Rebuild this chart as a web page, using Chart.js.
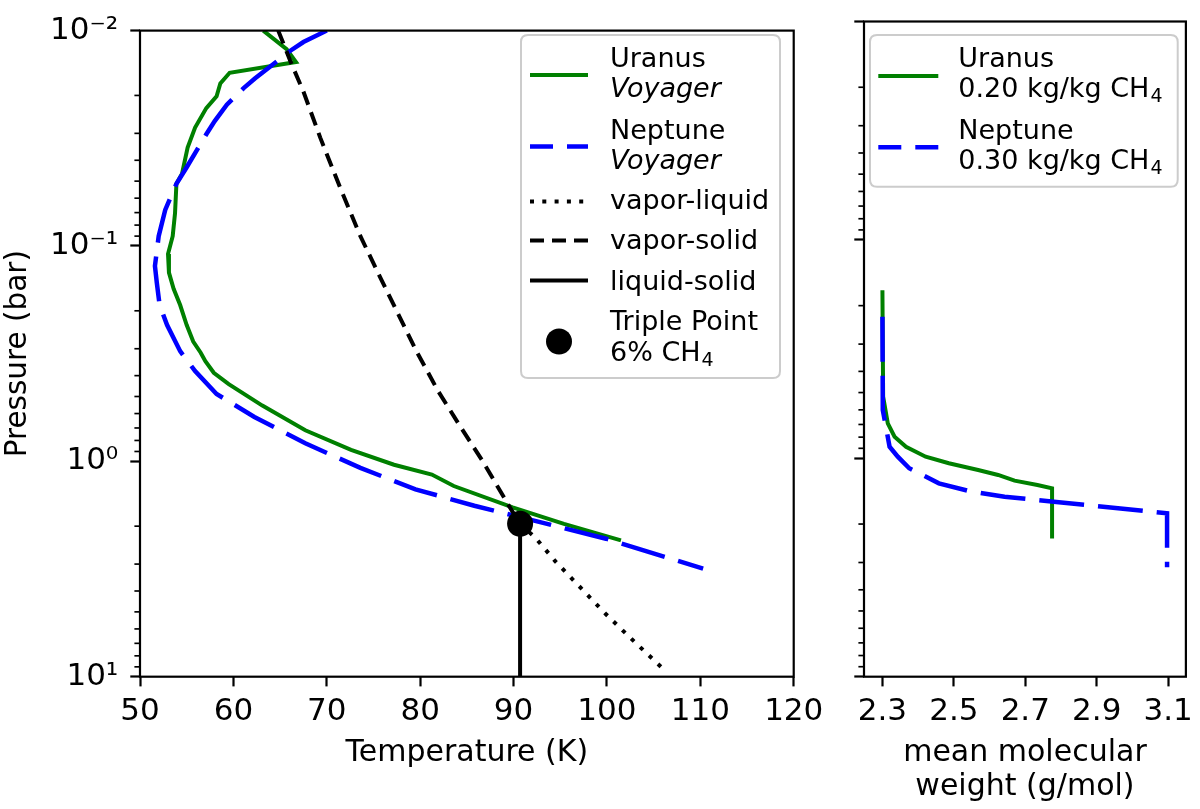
<!DOCTYPE html>
<html>
<head>
<meta charset="utf-8">
<script src="https://cdn.jsdelivr.net/npm/chart.js@4/dist/chart.umd.min.js"></script>
<style>
html, body { margin: 0; padding: 0; background: #ffffff; }
#wrap { position: relative; width: 1200px; height: 809px; overflow: hidden; }
#c1 { position: absolute; left: 0; top: 0; }
#c2 { position: absolute; left: 830px; top: 0; }
</style>
</head>
<body>
<div id="wrap">
  <canvas id="c1" width="830" height="809"></canvas>
  <canvas id="c2" width="370" height="809"></canvas>
</div>
<script>
// ---------------- DATA ----------------
// Left panel: temperature (K) vs pressure (bar)
const uranusT = [63.2, 65.7, 66.7, 59.6, 58.6, 58.2, 57.1, 55.9, 55.1, 54.5, 53.9, 53.75, 53.5, 53.0, 53.1, 53.6, 54.3, 55.0, 55.7, 56.5, 57.0, 57.9, 59.5, 63.1, 67.7, 72.6, 77.2, 81.25, 83.6, 89.9, 95.4, 101.5];
const uranusP = [0.0100, 0.0122, 0.0140, 0.0157, 0.0176, 0.0202, 0.0229, 0.0282, 0.0349, 0.0462, 0.0514, 0.0705, 0.0901, 0.109, 0.133, 0.158, 0.188, 0.233, 0.278, 0.313, 0.343, 0.388, 0.438, 0.551, 0.717, 0.885, 1.037, 1.152, 1.302, 1.636, 1.951, 2.33];

const neptuneT = [70.0, 67.5, 66.1, 62.3, 61.1, 59.3, 58.0, 57.1, 55.0, 53.9, 52.7, 52.0, 51.6, 51.8, 52.1, 52.9, 54.3, 55.9, 58.2, 62.25, 67.7, 73.6, 79.5, 85.8, 90.8, 99.9, 110.3];
const neptuneP = [0.0100, 0.0113, 0.0124, 0.0167, 0.0185, 0.0221, 0.0263, 0.0303, 0.0431, 0.0514, 0.068, 0.090, 0.124, 0.148, 0.188, 0.233, 0.308, 0.381, 0.487, 0.622, 0.824, 1.073, 1.349, 1.607, 1.82, 2.287, 3.15];

const vaporSolidT = [64.8, 66.2, 67.5, 69.3, 71.4, 73.6, 75.8, 79.6, 81.9, 84.1, 86.7, 89.5, 90.7];
const vaporSolidP = [0.0100, 0.0142, 0.0192, 0.0314, 0.0532, 0.0901, 0.142, 0.308, 0.470, 0.668, 1.0, 1.607, 1.95];

const vaporLiquidT = [90.7, 92.4, 94.5, 97.2, 99.9, 102.6, 106.3];
const vaporLiquidP = [1.95, 2.28, 2.92, 3.87, 5.13, 6.66, 9.45];

const liquidSolidT = [90.7, 90.7];
const liquidSolidP = [1.95, 10];

const triplePointT = [90.7];
const triplePointP = [1.95];

// Right panel: mean molecular weight (g/mol) vs pressure (bar)
const uranusMMW  = [2.300, 2.302, 2.315, 2.334, 2.366, 2.421, 2.486, 2.568, 2.624, 2.670, 2.734, 2.775, 2.775];
const uranusMMWP = [0.170, 0.522, 0.692, 0.797, 0.885, 0.983, 1.054, 1.131, 1.192, 1.266, 1.325, 1.372, 2.33];

const neptuneMMW  = [2.300, 2.301, 2.320, 2.343, 2.375, 2.458, 2.550, 2.642, 2.780, 2.918, 3.097, 3.097];
const neptuneMMWP = [0.225, 0.601, 0.885, 0.983, 1.111, 1.302, 1.422, 1.499, 1.580, 1.665, 1.786, 3.15];

// Ticks
const tempTicks = [50, 60, 70, 80, 90, 100, 110, 120];
const mmwTicks = [2.3, 2.5, 2.7, 2.9, 3.1];
const pressureMajorTicks = [0.01, 0.1, 1, 10];
const pressureMajorLabels = ['10\u207B\u00B2', '10\u207B\u00B9', '10\u2070', '10\u00B9'];
const pressureMinorTicks = [0.02, 0.03, 0.04, 0.05, 0.06, 0.07, 0.08, 0.09,
                            0.2, 0.3, 0.4, 0.5, 0.6, 0.7, 0.8, 0.9,
                            2, 3, 4, 5, 6, 7, 8, 9];

// Texts
const leftLegendLabels = [['Uranus', 'Voyager'], ['Neptune', 'Voyager'], ['vapor-liquid'], ['vapor-solid'], ['liquid-solid'], ['Triple Point', '6% CH\u2084']];
const rightLegendLabels = [['Uranus', '0.20 kg/kg CH\u2084'], ['Neptune', '0.30 kg/kg CH\u2084']];
const leftXTitle = 'Temperature (K)';
const rightXTitle = ['mean molecular', 'weight (g/mol)'];
const yTitle = 'Pressure (bar)';

// ---------------- STYLE ----------------
const FONT = '"DejaVu Sans", "Liberation Sans", sans-serif';
const GREEN = '#008000';
const BLUE = '#0000ff';
const TICK_FONT = 31;
const TITLE_FONT = 30;
const LEGEND_FONT = 27;
const pts = (xs, ys) => xs.map((v, i) => ({ x: v, y: ys[i] }));

Chart.defaults.font.family = FONT;
Chart.defaults.color = '#000';

function yScale(showLabels, width) {
  return {
    type: 'logarithmic',
    reverse: true,
    min: 0.01,
    max: 10,
    afterBuildTicks: s => { s.ticks = pressureMajorTicks.map(v => ({ value: v, major: true })); },
    ticks: {
      display: showLabels,
      autoSkip: false,
      padding: 12,
      color: '#000',
      font: { size: TICK_FONT, family: FONT },
      callback: (v, i) => pressureMajorLabels[i]
    },
    grid: { display: true, drawOnChartArea: false, drawTicks: true, tickLength: 9.7, tickWidth: 2.2, tickColor: '#000' },
    border: { display: false },
    title: showLabels ? { display: true, text: yTitle, color: '#000', font: { size: 29.5, family: FONT, lineHeight: 1.125 }, padding: { top: 1.4, bottom: 0 } } : { display: false },
    afterFit: s => { s.width = width; }
  };
}

function xScale(min, max, tickVals, fmt, title, padBottom) {
  return {
    type: 'linear',
    min: min,
    max: max,
    afterBuildTicks: s => { s.ticks = tickVals.map(v => ({ value: v })); },
    ticks: {
      autoSkip: false,
      maxRotation: 0,
      minRotation: 0,
      padding: 6.7,
      color: '#000',
      font: { size: TICK_FONT, family: FONT, lineHeight: 1.2 },
      callback: (v) => fmt(v)
    },
    grid: { display: true, drawOnChartArea: false, drawTicks: true, tickLength: 9.7, tickWidth: 2.2, tickColor: '#000' },
    border: { display: false },
    title: { display: true, text: title, color: '#000', font: { size: TITLE_FONT, family: FONT, lineHeight: 1.125 }, padding: { top: 0, bottom: padBottom } },
    afterFit: s => { s.height = 132.3; }
  };
}

function drawFrameAndMinor(chart) {
  const ctx = chart.ctx;
  const ca = chart.chartArea;
  const ys = chart.scales.y;
  ctx.save();
  ctx.strokeStyle = '#000';
  ctx.lineWidth = 1.67;
  ctx.setLineDash([]);
  pressureMinorTicks.forEach(v => {
    const py = ys.getPixelForValue(v);
    ctx.beginPath();
    ctx.moveTo(ca.left - 5.6, py);
    ctx.lineTo(ca.left, py);
    ctx.stroke();
  });
  ctx.lineWidth = 2.2;
  ctx.strokeRect(ca.left, ca.top, ca.right - ca.left, ca.bottom - ca.top);
  ctx.restore();
}

function roundRectPath(ctx, x, y, w, h, r) {
  ctx.beginPath();
  ctx.moveTo(x + r, y);
  ctx.lineTo(x + w - r, y);
  ctx.quadraticCurveTo(x + w, y, x + w, y + r);
  ctx.lineTo(x + w, y + h - r);
  ctx.quadraticCurveTo(x + w, y + h, x + w - r, y + h);
  ctx.lineTo(x + r, y + h);
  ctx.quadraticCurveTo(x, y + h, x, y + h - r);
  ctx.lineTo(x, y + r);
  ctx.quadraticCurveTo(x, y, x + r, y);
  ctx.closePath();
}

// Draws a text line; a subscript digit (U+2080..U+2089) is drawn as a smaller, lowered digit
function drawRichText(ctx, txt, x, y, italic) {
  const base = (italic ? 'italic ' : '') + LEGEND_FONT + 'px ' + FONT;
  const sub = (italic ? 'italic ' : '') + Math.round(LEGEND_FONT * 0.7) + 'px ' + FONT;
  let cx = x;
  let buf = '';
  const flush = () => {
    if (!buf) return;
    ctx.font = base;
    ctx.fillText(buf, cx, y);
    cx += ctx.measureText(buf).width;
    buf = '';
  };
  for (const ch of txt) {
    const code = ch.codePointAt(0);
    if (code >= 0x2080 && code <= 0x2089) {
      flush();
      const d = String(code - 0x2080);
      ctx.font = sub;
      ctx.fillText(d, cx + 1, y + 4.5);
      cx += ctx.measureText(d).width + 1;
    } else {
      buf += ch;
    }
  }
  flush();
}

// legend spec: box, handle x-range, text x, entries
function drawLegend(ctx, spec) {
  ctx.save();
  roundRectPath(ctx, spec.box.x, spec.box.y, spec.box.w, spec.box.h, 7);
  ctx.fillStyle = 'rgba(255,255,255,0.8)';
  ctx.fill();
  ctx.strokeStyle = '#cccccc';
  ctx.lineWidth = 2;
  ctx.stroke();
  spec.entries.forEach(e => {
    if (e.kind === 'line') {
      ctx.beginPath();
      ctx.setLineDash(e.dash);
      ctx.lineDashOffset = 0;
      ctx.strokeStyle = e.color;
      ctx.lineWidth = e.width;
      ctx.lineCap = 'butt';
      ctx.moveTo(spec.hx1, e.hy);
      ctx.lineTo(spec.hx2, e.hy);
      ctx.stroke();
    } else if (e.kind === 'dot') {
      ctx.setLineDash([]);
      ctx.beginPath();
      ctx.fillStyle = '#000';
      ctx.arc((spec.hx1 + spec.hx2) / 2, e.hy, 13, 0, Math.PI * 2);
      ctx.fill();
    }
    ctx.fillStyle = '#000';
    ctx.textBaseline = 'alphabetic';
    ctx.textAlign = 'left';
    e.labels.forEach((txt, i) => {
      drawRichText(ctx, txt, spec.tx, e.baselines[i], e.italic && e.italic[i]);
    });
  });
  ctx.restore();
}

const leftLegendSpec = {
  box: { x: 521, y: 35, w: 259, h: 343 },
  hx1: 530, hx2: 588, tx: 610,
  entries: [
    { kind: 'line', color: GREEN, width: 4, dash: [], hy: 75, labels: leftLegendLabels[0], italic: [false, true], baselines: [66.7, 96.7] },
    { kind: 'line', color: BLUE, width: 4.5, dash: [23, 14], hy: 146.5, labels: leftLegendLabels[1], italic: [false, true], baselines: [138.5, 168.5] },
    { kind: 'line', color: '#000', width: 4, dash: [4, 8.3], hy: 201.5, labels: leftLegendLabels[2], baselines: [208.5] },
    { kind: 'line', color: '#000', width: 4, dash: [14, 8], hy: 240.5, labels: leftLegendLabels[3], baselines: [249] },
    { kind: 'line', color: '#000', width: 4, dash: [], hy: 280.5, labels: leftLegendLabels[4], baselines: [289.5] },
    { kind: 'dot', hy: 341.5, labels: leftLegendLabels[5], baselines: [330, 361] }
  ]
};

const rightLegendSpec = {
  box: { x: 40, y: 35, w: 307.7, h: 151.7 },
  hx1: 48.3, hx2: 108.3, tx: 128.3,
  entries: [
    { kind: 'line', color: GREEN, width: 4, dash: [], hy: 76, labels: rightLegendLabels[0], baselines: [66.7, 97.3] },
    { kind: 'line', color: BLUE, width: 4.5, dash: [23, 14], hy: 147.3, labels: rightLegendLabels[1], baselines: [139.3, 169.3] }
  ]
};

const leftDecor = {
  id: 'leftDecor',
  afterDraw(chart) {
    drawFrameAndMinor(chart);
    drawLegend(chart.ctx, leftLegendSpec);
  }
};
const rightDecor = {
  id: 'rightDecor',
  afterDraw(chart) {
    drawFrameAndMinor(chart);
    drawLegend(chart.ctx, rightLegendSpec);
  }
};

const commonOpts = {
  responsive: false,
  animation: false,
  events: [],
  plugins: { legend: { display: false }, tooltip: { enabled: false } }
};

// ---------------- LEFT CHART ----------------
new Chart(document.getElementById('c1'), {
  type: 'scatter',
  data: {
    datasets: [
      { label: 'Triple Point', data: pts(triplePointT, triplePointP), showLine: false, pointRadius: 13, pointBackgroundColor: '#000', pointBorderWidth: 0, order: 0 },
      { label: 'Uranus', data: pts(uranusT, uranusP), showLine: true, borderColor: GREEN, borderWidth: 4, pointRadius: 0, tension: 0, order: 3 },
      { label: 'Neptune', data: pts(neptuneT, neptuneP), showLine: true, borderColor: BLUE, borderWidth: 4.5, borderDash: [45, 14], pointRadius: 0, tension: 0, order: 2 },
      { label: 'vapor-liquid', data: pts(vaporLiquidT, vaporLiquidP), showLine: true, borderColor: '#000', borderWidth: 4, borderDash: [4, 8.3], pointRadius: 0, tension: 0, order: 1 },
      { label: 'vapor-solid', data: pts(vaporSolidT, vaporSolidP), showLine: true, borderColor: '#000', borderWidth: 4, borderDash: [14, 8], pointRadius: 0, tension: 0, order: 1 },
      { label: 'liquid-solid', data: pts(liquidSolidT, liquidSolidP), showLine: true, borderColor: '#000', borderWidth: 4, pointRadius: 0, tension: 0, order: 1 }
    ]
  },
  options: Object.assign({}, commonOpts, {
    layout: { padding: { top: 21.5, right: 36, bottom: 0, left: 0 } },
    scales: {
      x: xScale(50, 120, tempTicks, v => String(v), leftXTitle, 38.8),
      y: yScale(true, 140)
    }
  }),
  plugins: [leftDecor]
});

// ---------------- RIGHT CHART ----------------
new Chart(document.getElementById('c2'), {
  type: 'scatter',
  data: {
    datasets: [
      { label: 'Uranus', data: pts(uranusMMW, uranusMMWP), showLine: true, borderColor: GREEN, borderWidth: 4, pointRadius: 0, tension: 0, order: 2 },
      { label: 'Neptune', data: pts(neptuneMMW, neptuneMMWP), showLine: true, borderColor: BLUE, borderWidth: 4.5, borderDash: [45, 14], pointRadius: 0, tension: 0, order: 1 }
    ]
  },
  options: Object.assign({}, commonOpts, {
    layout: { padding: { top: 21.5, right: 9.3, bottom: 0, left: 0 } },
    scales: {
      x: xScale(2.2484, 3.1497, mmwTicks, v => Number(v).toFixed(1), rightXTitle, 5.35),
      y: yScale(false, 34)
    }
  }),
  plugins: [rightDecor]
});
</script>
</body>
</html>
